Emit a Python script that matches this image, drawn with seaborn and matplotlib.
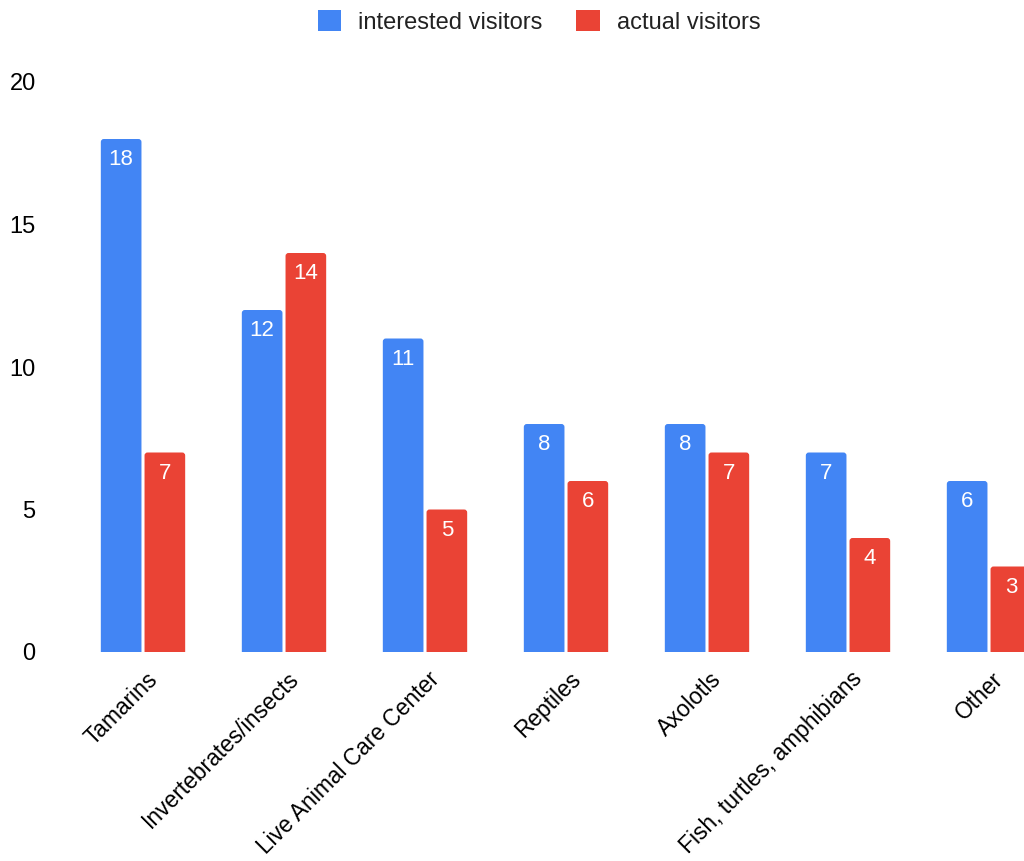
import matplotlib
matplotlib.use("Agg")
import matplotlib.pyplot as plt
import matplotlib.transforms as mtransforms
from matplotlib.patches import FancyBboxPatch
import seaborn as sns
import pandas as pd

# Exhibit interest vs. actual visits
categories = ["Tamarins", "Invertebrates/insects", "Live Animal Care Center",
              "Reptiles", "Axolotls", "Fish, turtles, amphibians", "Other"]
interested = [18, 12, 11, 8, 8, 7, 6]
actual = [7, 14, 5, 6, 7, 4, 3]
series_names = ["interested visitors", "actual visitors"]
colors = ["#4285F4", "#EA4335"]
y_ticks = [0, 5, 10, 15, 20]

df = pd.DataFrame({
    "category": categories * 2,
    "visitors": interested + actual,
    "series": [series_names[0]] * len(categories) + [series_names[1]] * len(categories),
})

sns.set_style("white")
plt.rcParams["font.family"] = ["Liberation Sans", "DejaVu Sans"]

W, H = 1024, 861
fig = plt.figure(figsize=(W / 100, H / 100), dpi=100)
ax_left_px, ax_right_px = 44, 1024
ax_top_px, ax_bottom_px = 82, 652
ax = fig.add_axes([ax_left_px / W, 1 - ax_bottom_px / H,
                   (ax_right_px - ax_left_px) / W, (ax_bottom_px - ax_top_px) / H])

sns.barplot(data=df, x="category", y="visitors", hue="series",
            palette=colors, width=0.62, gap=0.07, saturation=1,
            edgecolor="none", linewidth=0, ax=ax, legend=True)

# category spacing of 141 px with the first group centred at x=143 px
step_px, first_px = 141, 143
ax.set_xlim((ax_left_px - first_px) / step_px, (ax_right_px - first_px) / step_px)
ax.set_ylim(0, 20)
ax.set_yticks(y_ticks)
ax.set_yticklabels([str(t) for t in y_ticks])
ax.set_xlabel("")
ax.set_ylabel("")
for s in ax.spines.values():
    s.set_visible(False)
ax.grid(False)

# swap the plain rectangles for ones with softly rounded top corners
px_x = 1 / step_px
px_y = 20 / (ax_bottom_px - ax_top_px)
radius = 3
for container in ax.containers:
    for bar in container:
        x, w, h = bar.get_x(), bar.get_width(), bar.get_height()
        rounded = FancyBboxPatch(
            (x, -radius * px_y), w, h + radius * px_y,
            boxstyle=f"round,pad=0,rounding_size={radius * px_x}",
            mutation_aspect=px_y / px_x,
            facecolor=bar.get_facecolor(), edgecolor="none", linewidth=0,
            zorder=bar.get_zorder())
        ax.add_patch(rounded)
        bar.set_visible(False)

ax.tick_params(axis="y", length=0, pad=6, labelsize=17, labelcolor="#000000")
ax.tick_params(axis="x", length=0, pad=17, labelsize=16.4, labelcolor="#000000")
offset = mtransforms.ScaledTranslation(11 / 100, 0, fig.dpi_scale_trans)
for lbl in ax.get_xticklabels():
    lbl.set_rotation(45)
    lbl.set_ha("right")
    lbl.set_va("center")
    lbl.set_rotation_mode("anchor")
    lbl.set_transform(lbl.get_transform() + offset)

# value labels inside the bar tops
for container in ax.containers:
    for bar in container:
        h = bar.get_height()
        ax.annotate(f"{h:.0f}", (bar.get_x() + bar.get_width() / 2, h),
                    xytext=(0, -15), textcoords="offset points",
                    ha="center", va="center", color="white", fontsize=16,
                    clip_on=True)

handles, labels = ax.get_legend_handles_labels()
ax.legend_.remove()
fig.legend(handles, labels, loc="center", bbox_to_anchor=(539 / W, 1 - 22 / H),
           ncol=2, frameon=False, fontsize=17, handlelength=1.0,
           handleheight=1.0, handletextpad=0.72, columnspacing=1.4,
           labelcolor="#222222")

fig.savefig("out.png", dpi=100)
